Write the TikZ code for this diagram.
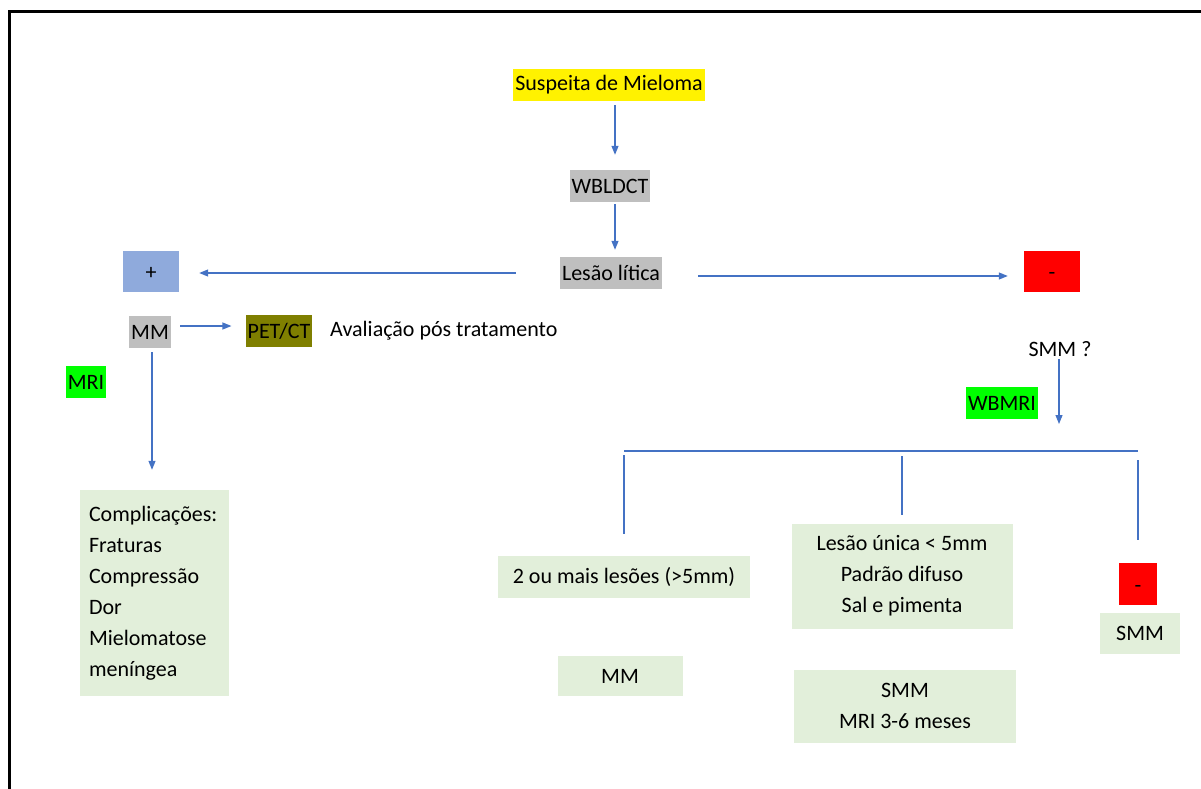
\documentclass[tikz,border=0pt]{standalone}
\usepackage{fontspec}
\setmainfont{Carlito}
\usetikzlibrary{calc}
\usetikzlibrary{positioning}
\usetikzlibrary{arrows.meta}

\definecolor{lineblue}{HTML}{4472C4}
\definecolor{boxgray}{HTML}{BFBFBF}
\definecolor{boxblue}{HTML}{8FAADC}
\definecolor{boxolive}{HTML}{7F7F00}
\definecolor{boxgreen}{HTML}{00FF00}
\definecolor{boxlight}{HTML}{E2EFDA}

\tikzset{
	txt/.style={font=\fontsize{22}{31}\selectfont, inner sep=0pt},
	tag/.style={txt, inner xsep=2pt, minimum height=32pt},
	sign/.style={txt, text height=20pt, text depth=3pt, minimum width=56pt, minimum height=41pt},
	result/.style={txt, fill=boxlight, align=center, inner xsep=9pt},
	conn/.style={draw=lineblue, line width=1.2pt},
	arr/.style={conn, -{Triangle[length=9pt,width=7pt]}}
}

\begin{document}
\begin{tikzpicture}[x=1pt,y=-1pt]

	\useasboundingbox (0,0) rectangle (1201,789);

	%Frame
	\draw[line width=3pt, draw=black] (9,12) rectangle (1230,820);

	%Top
	\node[tag, fill=yellow] (susp) at (609,85) {Suspeita de Mieloma};
	\node[tag, fill=boxgray] (wbldct) at (610,186) {WBLDCT};
	\node[tag, fill=boxgray] (lesao) at (611,273) {Lesão lítica};

	%Positive
	\node[sign, fill=boxblue] (pos) at (151,271) {+};
	\node[tag, fill=boxgray] (mm) at (150,332) {MM};
	\node[tag, fill=boxolive] (pet) at (279,331) {PET/CT};
	\node[txt, anchor=west] (aval) at (330,331) {Avaliação pós tratamento};
	\node[tag, fill=boxgreen] (mri) at (86,382) {MRI};
	\node[result, align=left, text width=131pt, minimum height=206pt] (comp) at (154.5,593)
		{Complicações:\\Fraturas\\Compressão\\Dor\\Mielomatose\\meníngea};

	%Negative
	\node[sign, fill=red] (neg) at (1052,271) {-};
	\node[txt] (smmq) at (1060,349) {SMM ?};
	\node[tag, fill=boxgreen] (wbmri) at (1002,403) {WBMRI};
	\coordinate (brL) at (624,451);
	\coordinate (brR) at (1138,451);

	%Results
	\node[result, minimum width=252pt, minimum height=42pt] (mais) at (624,577) {2 ou mais lesões (>5mm)};
	\node[result, minimum width=221pt, minimum height=105pt] (unica) at (902,576)
		{Lesão única < 5mm\\Padrão difuso\\Sal e pimenta};
	\node[sign, fill=red, minimum width=38pt, minimum height=42pt] (neg2) at (1138,584) {-};
	\node[result, minimum width=80pt, minimum height=41pt] (smm) at (1140,633) {SMM};
	\node[result, minimum width=125pt, minimum height=40pt] (mm2) at (620,676) {MM};
	\node[result, minimum width=222pt, minimum height=73pt] (smmri) at (905,706)
		{SMM\\MRI 3-6 meses};

	%Arrows
	\draw[arr, shorten <=4pt, shorten >=15pt] ([xshift=6pt]susp.south) -- ([xshift=5pt]wbldct.north);
	\draw[arr, shorten <=2pt, shorten >=7pt] ([xshift=5pt]wbldct.south) -- ([xshift=4pt]lesao.north);
	\draw[arr, shorten <=44pt, shorten >=20pt] (lesao.west) -- (lesao.west -| pos.east);
	\draw[arr, shorten <=36pt, shorten >=16pt] ([yshift=-3pt]lesao.east) -- ([yshift=-3pt]lesao.east -| neg.west);
	\draw[arr, shorten <=9pt, shorten >=14pt] ([yshift=6pt]mm.east) -- ([yshift=6pt]mm.east -| pet.west);
	\draw[arr, shorten <=4pt, shorten >=20pt] ([xshift=2pt]mm.south) -- ([xshift=2pt]mm.south |- comp.north);
	\draw[arr, shorten <=2pt, shorten >=27pt] ([xshift=-1pt]smmq.south) -- ([xshift=-1pt]smmq.south |- brR);

	%Split
	\draw[conn] (brL) -- (brR);
	\draw[conn, shorten <=4pt, shorten >=22pt] (mais.north |- brL) -- (mais.north);
	\draw[conn, shorten <=5pt, shorten >=8pt] (unica.north |- brL) -- (unica.north);
	\draw[conn, shorten <=9pt, shorten >=23pt] (brR) -- (neg2.north);

\end{tikzpicture}
\end{document}
